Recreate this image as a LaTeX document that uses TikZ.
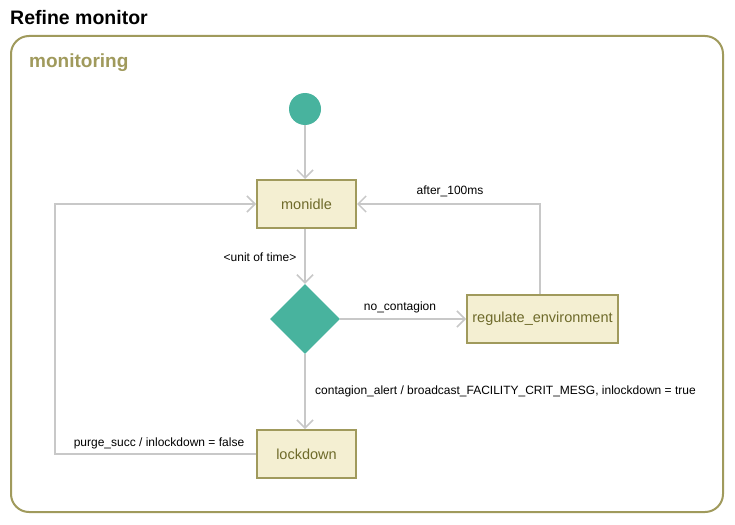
\documentclass[tikz,border=0pt]{standalone}
\usepackage{fontspec}
\setmainfont{Liberation Sans}
\usetikzlibrary{arrows.meta,shapes.geometric}
\definecolor{olive}{HTML}{A09A5C}
\definecolor{olivetext}{HTML}{6E6A2A}
\definecolor{statefill}{HTML}{F4EFD2}
\definecolor{teal}{HTML}{48B39E}
\definecolor{wire}{HTML}{C8C8C8}
\tikzset{
  statebox/.style={draw=olive, line width=2pt, fill=statefill, minimum height=48pt, inner sep=0pt, text=olivetext, font=\fontsize{14.5}{16}\selectfont},
  conn/.style={draw=wire, line width=2pt, -{Straight Barb[length=8pt,width=16pt,line width=1.5pt]}},
  lbl/.style={font=\fontsize{12}{14}\selectfont, text=black, inner sep=0pt},
}
\begin{document}
\begin{tikzpicture}[x=1pt,y=-1pt]
\useasboundingbox (0,0) rectangle (735,524);
\fill[white] (0,0) rectangle (735,524);
\node[anchor=west, font=\bfseries\fontsize{19.5}{21}\selectfont, inner sep=0pt] (title) at (10,18) {Refine monitor};
\draw[olive, line width=2pt, rounded corners=18pt] (11,36) rectangle (723,512);
\node[anchor=west, font=\bfseries\fontsize{19}{21}\selectfont, text=olive, inner sep=0pt] (region) at (29,63) {monitoring};

\node[circle, fill=teal, minimum size=32pt, inner sep=0pt] (init) at (305,109) {};
\node[statebox, minimum width=99pt] (monidle) at (306.5,204) {monidle};
\node[diamond, fill=teal, minimum width=70pt, minimum height=70pt, inner sep=0pt] (choice) at (305,319) {};
\node[statebox, minimum width=151pt] (reg) at (542.5,319) {regulate\_environment};
\node[statebox, minimum width=99pt] (lock) at (306.5,454) {lockdown};

\draw[conn] (init.south) -- (monidle.north -| init.south);
\draw[conn] (monidle.south -| choice.north) -- (choice.north);
\node[lbl] (l1) at (260,257) {<unit of time>};
\draw[conn] (choice.east) -- (reg.west |- choice.east);
\node[lbl] (l2) at (400,307) {no\_contagion};
\coordinate (c1) at (540,204);
\draw[conn] (reg.north -| c1) -- (c1) -- (monidle.east);
\node[lbl] (l3) at (450,191) {after\_100ms};
\draw[conn] (choice.south) -- (lock.north -| choice.south);
\node[lbl, anchor=west] (l4) at (315,391) {contagion\_alert / broadcast\_FACILITY\_CRIT\_MESG, inlockdown = true};
\coordinate (c2) at (55,454);
\coordinate (c3) at (55,204);
\draw[conn] (lock.west) -- (c2) -- (c3) -- (monidle.west);
\node[lbl] (l5) at (159,443) {purge\_succ / inlockdown = false};
\end{tikzpicture}
\end{document}
